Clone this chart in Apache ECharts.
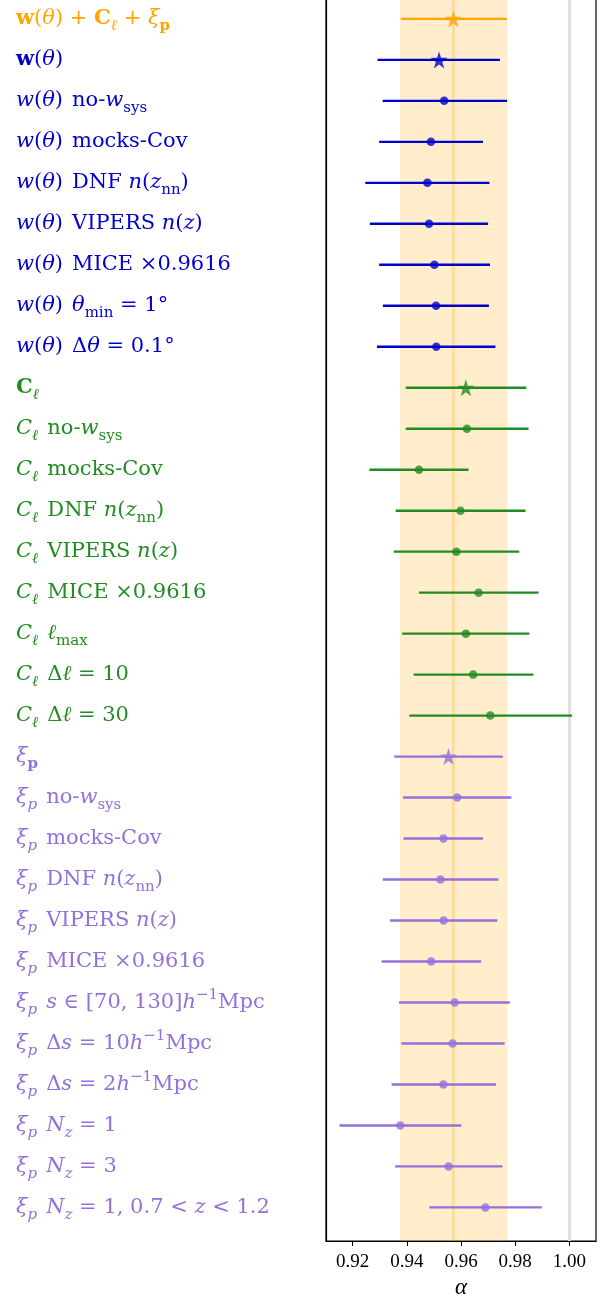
<!DOCTYPE html>
<html>
<head>
<meta charset="utf-8">
<script src="https://cdn.jsdelivr.net/npm/echarts@6/dist/echarts.min.js"></script>
<style>
html,body{margin:0;padding:0;background:#fff;}
#chart{width:605px;height:1298px;}
</style>
</head>
<body>
<div id="chart"></div>
<script>
// ---- data ----
const labels = [
  '{b|w}{r|(}{i|θ}{r|) + }{b|C}{si|ℓ}{r| + }{i|ξ}{sb|p}',
  '{b|w}{r|(}{i|θ}{r|)}',
  '{i|w}{r|(}{i|θ}{r|)}{g| }{r|no-}{i|w}{s|sys}',
  '{i|w}{r|(}{i|θ}{r|)}{g| }{r|mocks-Cov}',
  '{i|w}{r|(}{i|θ}{r|)}{g| }{r|DNF }{i|n}{r|(}{i|z}{s|nn}{r|)}',
  '{i|w}{r|(}{i|θ}{r|)}{g| }{r|VIPERS }{i|n}{r|(}{i|z}{r|)}',
  '{i|w}{r|(}{i|θ}{r|)}{g| }{r|MICE ×0.9616}',
  '{i|w}{r|(}{i|θ}{r|)}{g| }{i|θ}{s|min}{r| = 1°}',
  '{i|w}{r|(}{i|θ}{r|)}{g| }{r|Δ}{i|θ}{r| = 0.1°}',
  '{b|C}{si|ℓ}',
  '{i|C}{si|ℓ}{g| }{r|no-}{i|w}{s|sys}',
  '{i|C}{si|ℓ}{g| }{r|mocks-Cov}',
  '{i|C}{si|ℓ}{g| }{r|DNF }{i|n}{r|(}{i|z}{s|nn}{r|)}',
  '{i|C}{si|ℓ}{g| }{r|VIPERS }{i|n}{r|(}{i|z}{r|)}',
  '{i|C}{si|ℓ}{g| }{r|MICE ×0.9616}',
  '{i|C}{si|ℓ}{g| }{i|ℓ}{s|max}',
  '{i|C}{si|ℓ}{g| }{r|Δ}{i|ℓ}{r| = 10}',
  '{i|C}{si|ℓ}{g| }{r|Δ}{i|ℓ}{r| = 30}',
  '{i|ξ}{sb|p}',
  '{i|ξ}{si|p}{g| }{r|no-}{i|w}{s|sys}',
  '{i|ξ}{si|p}{g| }{r|mocks-Cov}',
  '{i|ξ}{si|p}{g| }{r|DNF }{i|n}{r|(}{i|z}{s|nn}{r|)}',
  '{i|ξ}{si|p}{g| }{r|VIPERS }{i|n}{r|(}{i|z}{r|)}',
  '{i|ξ}{si|p}{g| }{r|MICE ×0.9616}',
  '{i|ξ}{si|p}{g| }{i|s}{r| ∈ [70, 130]}{i|h}{sup|−1}{r|Mpc}',
  '{i|ξ}{si|p}{g| }{r|Δ}{i|s}{r| = 10}{i|h}{sup|−1}{r|Mpc}',
  '{i|ξ}{si|p}{g| }{r|Δ}{i|s}{r| = 2}{i|h}{sup|−1}{r|Mpc}',
  '{i|ξ}{si|p}{g| }{i|N}{si|z}{r| = 1}',
  '{i|ξ}{si|p}{g| }{i|N}{si|z}{r| = 3}',
  '{i|ξ}{si|p}{g| }{i|N}{si|z}{r| = 1, 0.7 < }{i|z}{r| < 1.2}'
];
const alphaCenter = [0.9572,0.9519,0.9538,0.9489,0.9476,0.9482,0.9502,0.9508,0.9509,
  0.9618,0.9622,0.9445,0.9598,0.9583,0.9665,0.9618,0.9645,0.9708,
  0.9554,0.9586,0.9535,0.9524,0.9536,0.9490,0.9577,0.9569,0.9535,0.9376,0.9554,0.9690];
const alphaLow = [0.9378,0.9292,0.9311,0.9298,0.9247,0.9264,0.9298,0.9312,0.9290,
  0.9396,0.9396,0.9262,0.9359,0.9352,0.9445,0.9383,0.9425,0.9409,
  0.9354,0.9386,0.9388,0.9311,0.9338,0.9307,0.9371,0.9380,0.9344,0.9152,0.9357,0.9483];
const alphaHigh = [0.9769,0.9744,0.9770,0.9681,0.9705,0.9700,0.9707,0.9703,0.9727,
  0.9841,0.9849,0.9628,0.9838,0.9815,0.9886,0.9852,0.9867,1.0010,
  0.9754,0.9786,0.9681,0.9738,0.9734,0.9674,0.9780,0.9761,0.9729,0.9601,0.9753,0.9898];
const group = [0,1,1,1,1,1,1,1,1,2,2,2,2,2,2,2,2,2,3,3,3,3,3,3,3,3,3,3,3,3];
const isStar = [1,1,0,0,0,0,0,0,0,1,0,0,0,0,0,0,0,0,1,0,0,0,0,0,0,0,0,0,0,0];
const groupColors = ['#FFA500','#0000CD','#228B22','#9370DB'];
const bandRange = [0.9375, 0.9771];
const vLines = [0.9572, 1.00];
const xTicks = [0.92,0.94,0.96,0.98,1.00];

// ---- chart ----
const starPath = 'path://M50,0 L61.8,36.2 L100,36.2 L69.1,58.8 L80.9,95.1 L50,72.7 L19.1,95.1 L30.9,58.8 L0,36.2 L38.2,36.2 Z';
const FONT = '"DejaVu Serif", "Liberation Serif", serif';
const TFONT = '"Liberation Serif", "DejaVu Serif", serif';
const MAIN = 21, SUB = 15;
const rich = {};
groupColors.forEach((c, g) => {
  const base = {color: c, fontFamily: FONT, fontSize: MAIN, lineHeight: 30, verticalAlign: 'middle'};
  rich['r' + g] = Object.assign({}, base);
  rich['g' + g] = Object.assign({}, base, {width: 9});
  rich['i' + g] = Object.assign({}, base, {fontStyle: 'italic'});
  rich['b' + g] = Object.assign({}, base, {fontWeight: 'bold'});
  rich['s' + g] = {color: c, fontFamily: FONT, fontSize: SUB, lineHeight: 17, verticalAlign: 'bottom'};
  rich['si' + g] = {color: c, fontFamily: FONT, fontSize: SUB, fontStyle: 'italic', lineHeight: 17, verticalAlign: 'bottom'};
  rich['sb' + g] = {color: c, fontFamily: FONT, fontSize: SUB, fontWeight: 'bold', lineHeight: 17, verticalAlign: 'bottom'};
  rich['sup' + g] = {color: c, fontFamily: FONT, fontSize: SUB, lineHeight: 18, verticalAlign: 'top'};
});

const rows = labels.map((_, i) => i);
const barData = rows.map(i => [alphaLow[i], alphaHigh[i], i, group[i]]);
const pointData = rows.map(i => ({
  value: [alphaCenter[i], i],
  symbol: isStar[i] ? starPath : 'circle',
  symbolSize: isStar[i] ? 17 : 8.5,
  itemStyle: {color: groupColors[group[i]]}
}));

const chart = echarts.init(document.getElementById('chart'), null, {renderer: 'canvas'});
chart.setOption({
  animation: false,
  backgroundColor: '#fff',
  grid: {left: 326, right: 9, top: -2, bottom: 57, containLabel: false, outerBoundsMode: 'none',
    show: true, borderColor: '#000', borderWidth: 1.2, backgroundColor: 'transparent'},
  xAxis: {
    type: 'value', min: 0.9102, max: 1.0098,
    axisLine: {show: true, onZero: false, lineStyle: {color: '#000', width: 1.2}},
    axisTick: {show: true, customValues: xTicks, length: 5, lineStyle: {color: '#000', width: 1}},
    axisLabel: {customValues: xTicks, formatter: v => v.toFixed(2), margin: 12,
      fontFamily: TFONT, fontSize: 19, color: '#000'},
    splitLine: {show: false},
    name: 'α', nameLocation: 'middle', nameGap: 35,
    nameTextStyle: {fontFamily: TFONT, fontSize: 23, fontStyle: 'italic', color: '#000'}
  },
  yAxis: {
    type: 'value', inverse: true, min: -0.51, max: 29.82,
    axisLine: {show: true, onZero: false, lineStyle: {color: '#000', width: 1.2}},
    axisTick: {show: false},
    splitLine: {show: false},
    axisLabel: {
      customValues: rows, align: 'left', margin: 310,
      formatter: v => labels[v].replace(/\{(\w+)\|/g, (m, n) => '{' + n + group[v] + '|'),
      rich: rich
    }
  },
  series: [
    {
      type: 'custom', z: 0, silent: true, clip: true,
      encode: {x: [0, 1], y: 2},
      data: [[bandRange[0], bandRange[1], 0]],
      renderItem: (params, api) => {
        const cs = params.coordSys;
        const x1 = api.coord([api.value(0), 0])[0];
        const x2 = api.coord([api.value(1), 0])[0];
        return {type: 'rect', shape: {x: x1, y: cs.y, width: x2 - x1, height: cs.height},
          style: {fill: 'rgba(255,165,0,0.2)'}};
      }
    },
    {
      type: 'custom', z: 1, silent: true, clip: true,
      encode: {x: 0, y: 1},
      data: [[vLines[0], 0, 0], [vLines[1], 0, 1]],
      renderItem: (params, api) => {
        const cs = params.coordSys;
        const x = api.coord([api.value(0), 0])[0];
        const kind = api.value(2);
        return {type: 'line', shape: {x1: x, y1: cs.y, x2: x, y2: cs.y + cs.height},
          style: {stroke: kind === 0 ? 'rgba(255,180,60,0.3)' : '#e0e0e0', lineWidth: 3}};
      }
    },
    {
      type: 'custom', z: 3, silent: true,
      encode: {x: [0, 1], y: 2},
      data: barData,
      renderItem: (params, api) => {
        const p1 = api.coord([api.value(0), api.value(2)]);
        const p2 = api.coord([api.value(1), api.value(2)]);
        return {type: 'line', shape: {x1: p1[0], y1: p1[1], x2: p2[0], y2: p2[1]},
          style: {stroke: groupColors[api.value(3)], lineWidth: 2.4}};
      }
    },
    {
      type: 'scatter', z: 4, silent: true, data: pointData
    }
  ]
});
</script>
</body>
</html>
